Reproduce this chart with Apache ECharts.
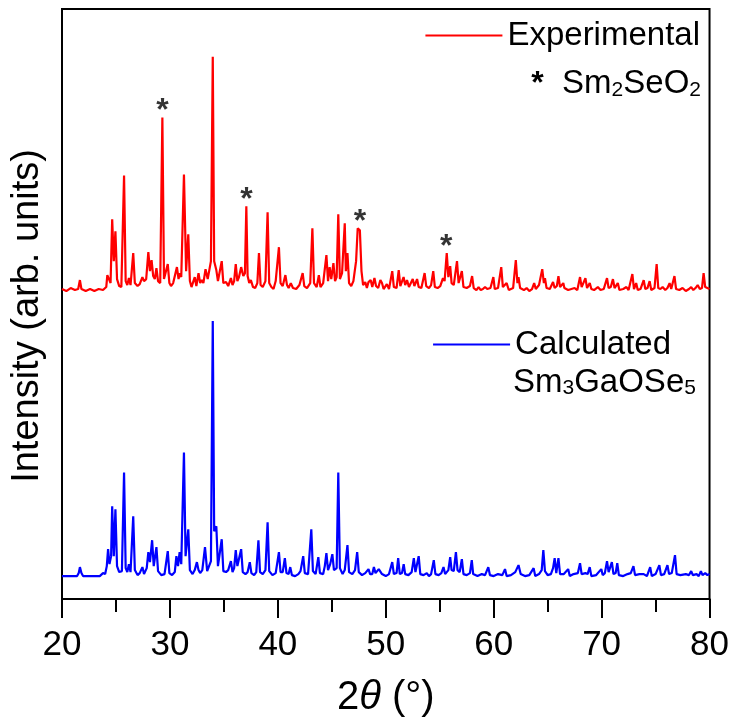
<!DOCTYPE html>
<html>
<head>
<meta charset="utf-8">
<script src="https://cdn.jsdelivr.net/npm/echarts@6/dist/echarts.min.js"></script>
<style>html,body{margin:0;padding:0;background:#fff;}#c{width:732px;height:723px;}</style>
</head>
<body>
<div id="c"></div>
<script>
// 2-theta (deg), intensity above the pattern baseline (arb. units)
const experimental = [
[20.0,2],[20.4,0],[20.8,3],[21.2,1],[21.5,2],[21.66,11],[21.8,2],[22.2,0],[22.6,2],[23.0,0],[23.4,2],[23.8,1],[24.1,4],[24.2,16],[24.35,14],[24.5,8],[24.65,72],[24.8,30],[24.95,60],[25.1,12],[25.3,5],[25.5,4],[25.75,116],[25.9,10],[26.05,6],[26.2,13],[26.35,6],[26.6,38],[26.75,8],[27.0,5],[27.2,7],[27.45,14],[27.6,10],[27.8,12],[28.0,39],[28.15,20],[28.3,31],[28.45,15],[28.6,12],[28.75,23],[28.9,10],[29.1,8],[29.3,174],[29.45,12],[29.6,10],[29.8,27],[29.95,8],[30.1,5],[30.3,8],[30.45,6],[30.65,24],[30.8,12],[30.9,18],[31.05,14],[31.3,117],[31.5,20],[31.7,57],[31.85,10],[32.0,4],[32.3,14],[32.45,5],[32.65,18],[32.8,8],[32.95,11],[33.1,8],[33.3,22],[33.5,12],[33.8,30],[33.97,235],[34.1,30],[34.3,21],[34.45,10],[34.6,12],[34.8,30],[34.95,8],[35.2,9],[35.4,5],[35.65,13],[35.8,6],[35.95,10],[36.1,27],[36.25,10],[36.4,14],[36.6,24],[36.8,15],[36.95,18],[37.08,85],[37.2,15],[37.35,8],[37.5,11],[37.7,4],[37.9,3],[38.1,8],[38.25,38],[38.4,6],[38.6,4],[38.85,10],[39.05,79],[39.2,8],[39.4,4],[39.6,2],[39.8,10],[40.1,44],[40.25,8],[40.45,5],[40.7,16],[40.85,6],[41.0,3],[41.2,8],[41.4,3],[41.7,2],[42.0,6],[42.3,18],[42.45,5],[42.7,3],[43.0,8],[43.2,63],[43.35,8],[43.6,4],[43.8,16],[43.95,4],[44.2,8],[44.5,36],[44.65,10],[44.8,24],[44.95,12],[45.15,28],[45.3,10],[45.45,14],[45.6,77],[45.75,12],[45.95,18],[46.2,68],[46.3,20],[46.45,38],[46.6,8],[46.8,5],[47.0,10],[47.25,30],[47.4,63],[47.6,61],[47.75,20],[47.9,6],[48.1,9],[48.25,3],[48.4,9],[48.6,11],[48.75,4],[48.95,13],[49.1,5],[49.3,3],[49.5,11],[49.65,8],[49.8,2],[50.1,7],[50.3,2],[50.6,20],[50.75,4],[51.0,3],[51.2,21],[51.35,5],[51.65,14],[51.8,6],[51.97,11],[52.15,4],[52.3,3],[52.5,12],[52.65,5],[52.9,12],[53.05,4],[53.3,3],[53.6,18],[53.75,5],[54.0,3],[54.2,6],[54.4,20],[54.55,4],[54.8,3],[55.05,5],[55.3,13],[55.45,10],[55.65,38],[55.8,14],[55.97,25],[56.1,8],[56.3,6],[56.6,30],[56.75,8],[56.9,6],[57.05,20],[57.2,4],[57.5,3],[57.8,5],[58.0,15],[58.15,3],[58.4,1],[58.6,4],[58.8,1],[59.0,2],[59.2,4],[59.4,2],[59.7,3],[59.97,14],[60.1,2],[60.4,3],[60.7,24],[60.85,4],[61.0,2],[61.2,8],[61.4,1],[61.8,3],[62.05,31],[62.2,8],[62.3,14],[62.45,3],[62.8,1],[63.05,3],[63.3,0],[63.55,2],[63.75,8],[63.9,2],[64.2,6],[64.35,4],[64.5,22],[64.65,8],[64.75,13],[64.9,3],[65.2,2],[65.5,9],[65.65,3],[65.85,5],[66.0,15],[66.15,4],[66.45,8],[66.55,3],[66.7,4],[66.9,1],[67.2,2],[67.5,3],[67.75,1],[68.0,14],[68.15,4],[68.3,5],[68.5,13],[68.65,3],[68.9,8],[69.05,2],[69.3,1],[69.65,4],[69.9,1],[70.2,2],[70.5,13],[70.65,3],[70.85,4],[71.05,12],[71.2,3],[71.5,8],[71.65,1],[72.0,2],[72.3,4],[72.5,1],[72.85,17],[73.0,2],[73.2,8],[73.35,1],[73.6,2],[73.9,11],[74.05,2],[74.25,3],[74.45,10],[74.6,1],[74.9,3],[75.1,27],[75.25,3],[75.45,2],[75.65,4],[75.9,1],[76.1,3],[76.3,8],[76.45,2],[76.75,15],[76.9,2],[77.2,1],[77.5,3],[77.8,0],[78.1,2],[78.3,4],[78.5,1],[78.7,3],[78.9,6],[79.1,2],[79.3,3],[79.45,18],[79.6,4],[79.8,3],[80.0,2]
];
const calculated = [
[20.0,0],[21.4,0],[21.55,3],[21.66,9],[21.8,3],[21.95,0],[23.5,0],[23.8,3],[24.0,2],[24.15,10],[24.27,27],[24.4,12],[24.55,20],[24.65,70],[24.8,20],[24.95,67],[25.1,10],[25.3,4],[25.55,5],[25.75,104],[25.9,8],[26.05,4],[26.2,12],[26.35,4],[26.6,60],[26.75,6],[27.0,1],[27.2,3],[27.45,9],[27.6,2],[27.85,8],[28.0,24],[28.15,14],[28.35,36],[28.5,10],[28.75,29],[28.9,5],[29.2,1],[29.5,2],[29.8,25],[29.95,3],[30.2,1],[30.45,4],[30.6,20],[30.75,10],[30.9,24],[31.05,12],[31.3,124],[31.45,20],[31.7,47],[31.85,6],[32.1,2],[32.3,6],[32.5,14],[32.65,6],[32.8,3],[33.0,6],[33.25,29],[33.45,5],[33.8,15],[33.97,256],[34.1,45],[34.3,50],[34.45,10],[34.6,8],[34.8,37],[34.95,5],[35.2,4],[35.4,6],[35.65,15],[35.8,4],[35.95,8],[36.1,26],[36.25,10],[36.4,8],[36.6,27],[36.75,4],[37.0,2],[37.2,4],[37.4,14],[37.55,3],[37.8,1],[38.0,4],[38.2,36],[38.35,4],[38.6,2],[38.85,6],[39.05,54],[39.2,5],[39.5,1],[39.8,3],[40.1,24],[40.25,4],[40.45,4],[40.65,18],[40.8,3],[41.0,2],[41.15,9],[41.3,1],[41.6,0],[41.9,2],[42.1,5],[42.35,20],[42.5,3],[42.8,2],[43.1,47],[43.25,5],[43.5,2],[43.75,19],[43.9,3],[44.2,2],[44.35,10],[44.5,23],[44.65,6],[44.85,12],[45.05,22],[45.2,6],[45.45,8],[45.6,104],[45.75,8],[46.0,2],[46.2,6],[46.45,31],[46.6,4],[46.9,2],[47.15,6],[47.35,24],[47.5,4],[47.8,1],[48.1,3],[48.4,7],[48.55,2],[48.75,2],[48.9,9],[49.05,3],[49.2,3],[49.35,7],[49.5,9],[49.65,2],[50.0,0],[50.3,2],[50.6,14],[50.75,2],[51.0,3],[51.15,18],[51.3,2],[51.5,3],[51.66,12],[51.8,2],[52.1,1],[52.4,4],[52.6,18],[52.75,4],[53.05,20],[53.2,2],[53.5,1],[53.8,3],[54.0,0],[54.2,2],[54.45,16],[54.6,2],[54.9,1],[55.15,3],[55.35,9],[55.5,2],[55.8,6],[55.97,19],[56.1,6],[56.3,5],[56.5,24],[56.65,6],[56.85,4],[57.05,17],[57.2,2],[57.5,1],[57.8,3],[57.97,16],[58.1,2],[58.5,0],[58.9,2],[59.2,1],[59.5,9],[59.65,1],[60.0,0],[60.4,2],[60.8,1],[61.05,7],[61.2,0],[61.6,1],[62.0,4],[62.3,11],[62.5,2],[62.9,0],[63.3,1],[63.7,8],[63.85,0],[64.2,2],[64.45,6],[64.6,26],[64.75,5],[65.0,1],[65.3,2],[65.5,8],[65.65,18],[65.8,3],[66.0,18],[66.15,2],[66.5,2],[66.9,7],[67.05,0],[67.4,2],[67.8,3],[68.0,13],[68.15,2],[68.5,3],[68.7,2],[68.9,9],[69.05,0],[69.5,1],[69.97,7],[70.1,1],[70.3,3],[70.5,15],[70.65,4],[70.8,3],[70.95,14],[71.1,2],[71.3,3],[71.45,13],[71.6,1],[72.0,0],[72.4,2],[72.7,3],[72.95,10],[73.1,1],[73.5,2],[73.9,2],[74.2,0],[74.5,9],[74.65,0],[75.0,2],[75.35,11],[75.5,1],[75.8,2],[76.1,11],[76.25,2],[76.5,3],[76.8,21],[76.95,2],[77.3,1],[77.8,2],[78.1,1],[78.3,5],[78.45,1],[78.8,2],[79.0,0],[79.2,5],[79.35,1],[79.6,3],[79.8,1],[80.0,2]
];
// Sm2SeO2 impurity reflections marked with *
const starTheta = [29.3, 37.1, 47.6, 55.6];
const starIntensity = [174, 85, 63, 38];
const xTicks = [20, 30, 40, 50, 60, 70, 80];

// vertical stacking of the two patterns
const expOffset = 309;
const calcOffset = 23;
const FONT = '"Liberation Sans", Arial, sans-serif';

const chart = echarts.init(document.getElementById('c'), null, {renderer: 'canvas'});
const shift = (arr, off) => arr.map(p => [p[0], p[1] + off]);

const subRich = {
  m: {fontSize: 33, fontFamily: FONT, verticalAlign: 'bottom', lineHeight: 44, fill: '#000', color: '#000'},
  s: {fontSize: 32, fontWeight: 'bold', fontFamily: FONT, verticalAlign: 'bottom', lineHeight: 27, fill: '#000', color: '#000'},
  b: {fontSize: 21, fontFamily: FONT, verticalAlign: 'bottom', lineHeight: 21, fill: '#000', color: '#000'}
};

const option = {
  animation: false,
  backgroundColor: '#fff',
  textStyle: {fontFamily: FONT, color: '#000'},
  grid: {left: 62, top: 9, width: 650, height: 592, show: true, borderColor: '#000', borderWidth: 2, backgroundColor: 'transparent'},
  xAxis: [{
    type: 'value', min: xTicks[0], max: xTicks[xTicks.length - 1], interval: 10,
    axisLine: {show: true, lineStyle: {color: '#000', width: 2}},
    axisTick: {show: true, inside: false, length: 19, lineStyle: {color: '#000', width: 2}},
    minorTick: {show: true, splitNumber: 2, length: 13, lineStyle: {color: '#000', width: 2}},
    splitLine: {show: false},
    axisLabel: {fontSize: 35, color: '#000', margin: 29, fontFamily: FONT},
    name: '2{i|θ} (°)', nameLocation: 'middle', nameGap: 79,
    nameTextStyle: {fontSize: 40, color: '#000', fontFamily: FONT, rich: {i: {fontSize: 40, fontStyle: 'italic', fontFamily: FONT, color: '#000'}}}
  }],
  yAxis: [{
    type: 'value', min: 0, max: 592,
    axisLine: {show: true, lineStyle: {color: '#000', width: 2}},
    axisTick: {show: false}, axisLabel: {show: false}, splitLine: {show: false},
    name: 'Intensity (arb. units)', nameLocation: 'middle', nameGap: 15, nameRotate: 90,
    nameTextStyle: {fontSize: 38, color: '#000', fontFamily: FONT, padding: [0, 24, 0, 0]}
  }],
  legend: [{
    data: ['Experimental'], right: 27, top: 14, itemWidth: 77, itemHeight: 2, icon: 'rect', itemGap: 10,
    textStyle: {fontSize: 33, color: '#000', fontFamily: FONT}, selectedMode: false
  }, {
    data: ['Calculated'], right: 56, top: 323, itemWidth: 77, itemHeight: 2, icon: 'rect',
    textStyle: {fontSize: 33, color: '#000', fontFamily: FONT}, selectedMode: false
  }],
  graphic: [{
    type: 'text', right: 31, top: 62,
    style: {text: '{s|*}  {m|Sm}{b|2}{m|SeO}{b|2}', rich: subRich, font: '33px ' + FONT, fill: '#000'}
  }, {
    type: 'text', left: 513, top: 366,
    style: {text: '{m|Sm}{b|3}{m|GaOSe}{b|5}', rich: subRich, font: '33px ' + FONT, fill: '#000'}
  }],
  series: [{
    name: 'Experimental', type: 'line', data: shift(experimental, expOffset),
    symbol: 'none', lineStyle: {color: '#ff0000', width: 2.2}, itemStyle: {color: '#ff0000'}, z: 3
  }, {
    name: 'Calculated', type: 'line', data: shift(calculated, calcOffset),
    symbol: 'none', lineStyle: {color: '#0000ff', width: 2.2}, itemStyle: {color: '#0000ff'}, z: 3
  }, {
    name: 'stars', type: 'scatter', symbolSize: 0, z: 4,
    data: starTheta.map((t, i) => [t, starIntensity[i] + expOffset]),
    label: {show: true, formatter: '*', position: 'top', distance: 0, offset: [0, 10], fontSize: 32, fontWeight: 'bold', color: '#000', fontFamily: FONT},
    silent: true
  }]
};
chart.setOption(option);
</script>
</body>
</html>
